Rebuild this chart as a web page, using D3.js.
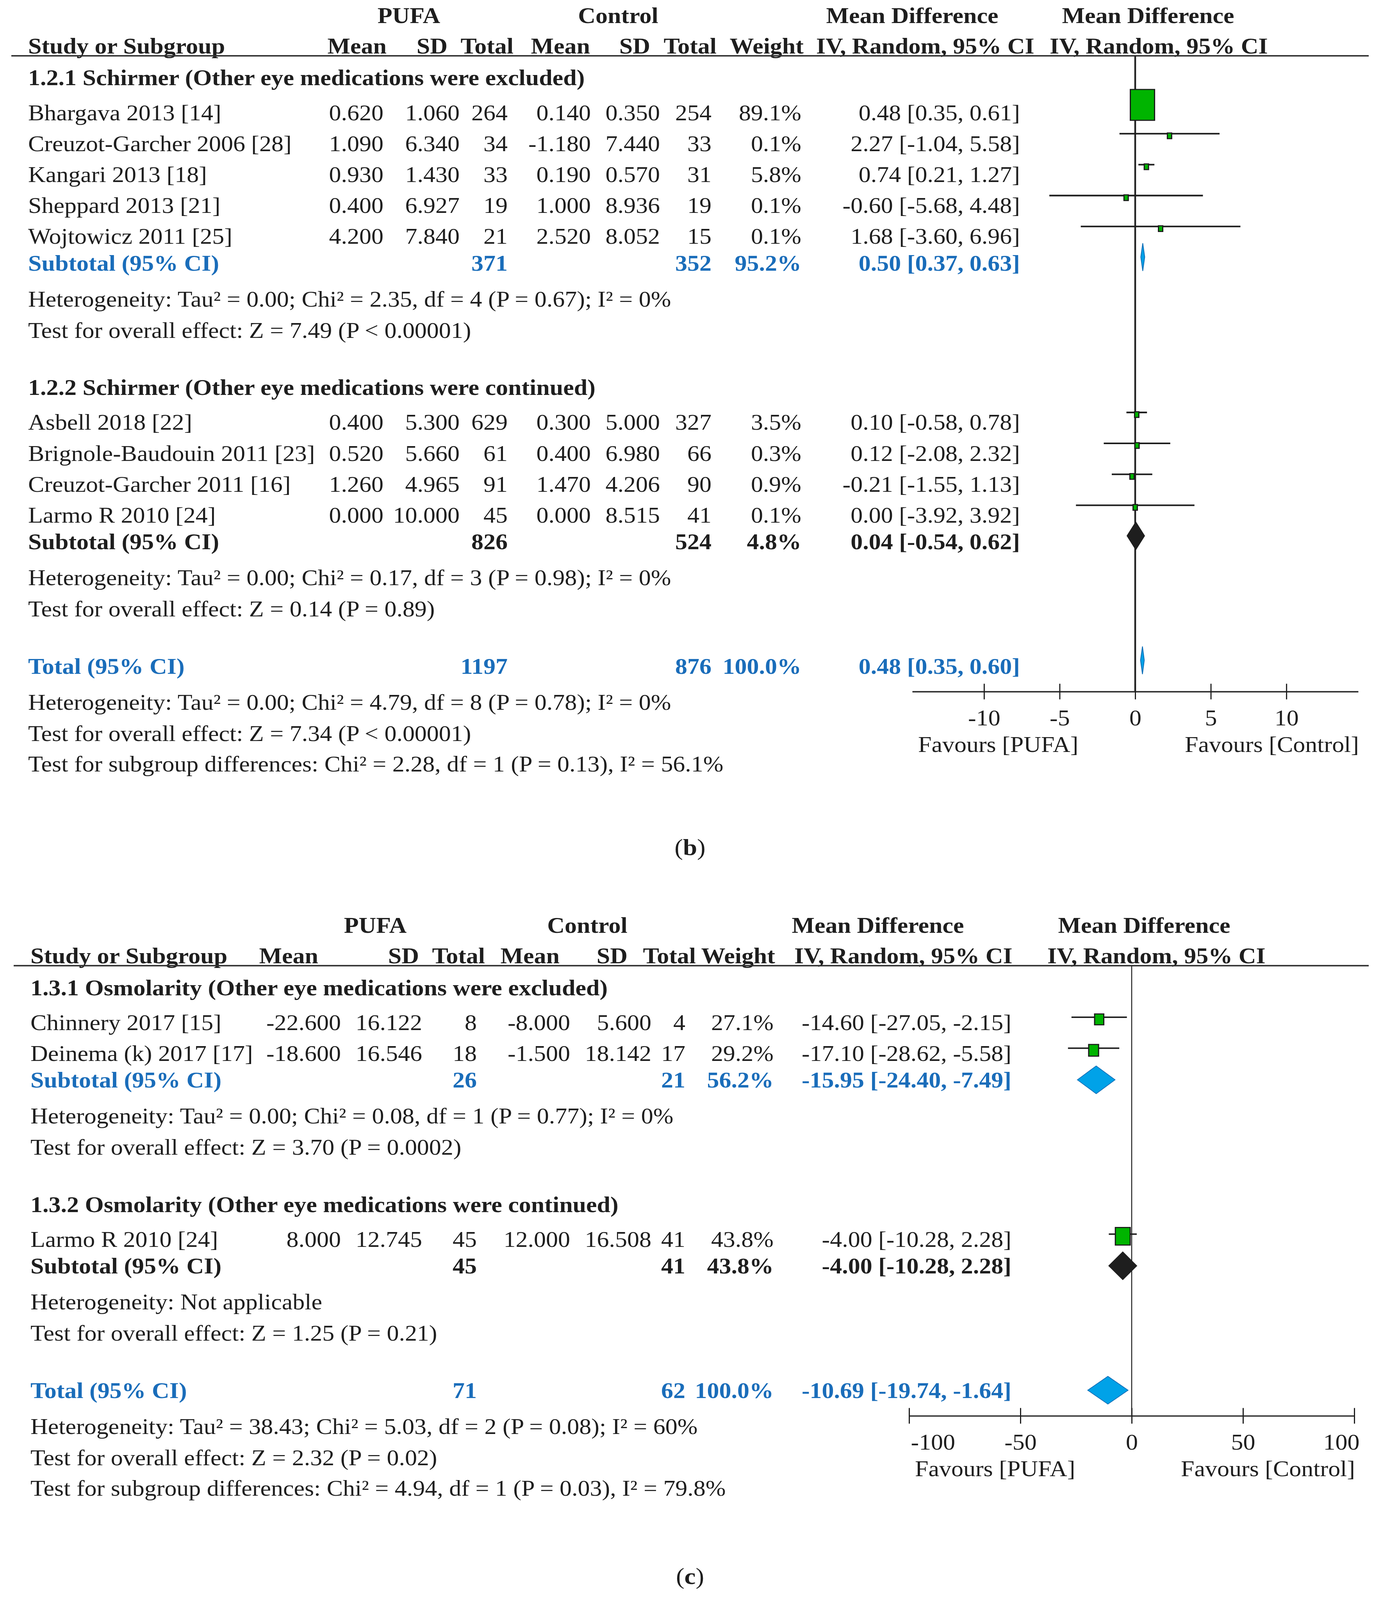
<!DOCTYPE html>
<html>
<head>
<meta charset="utf-8">
<script src="https://cdn.jsdelivr.net/npm/d3@7"></script>
<style>
  html, body { margin: 0; padding: 0; height: 100%; overflow: hidden; background: #fff; }
  svg { display: block; width: 100vw; height: 100vh; }
</style>
</head>
<body>
<svg id="chart"></svg>
<script>
const width = 3539, height = 4500;
const serif = '"Liberation Serif", "Times New Roman", serif';
const ink = "#1e1e1e";
const blue = "#1a6dba";
const fontSize = 62;

// ---------- panel (b): Schirmer ----------
const bHeadings = [
    "1.2.1 Schirmer (Other eye medications were excluded)",
    "1.2.2 Schirmer (Other eye medications were continued)"
];
const bStudies = ["Bhargava 2013 [14]", "Creuzot-Garcher 2006 [28]", "Kangari 2013 [18]", "Sheppard 2013 [21]",
    "Wojtowicz 2011 [25]", "Asbell 2018 [22]", "Brignole-Baudouin 2011 [23]", "Creuzot-Garcher 2011 [16]", "Larmo R 2010 [24]"];
const bGroup = [0, 0, 0, 0, 0, 1, 1, 1, 1];
const bPufaMean = [0.620, 1.090, 0.930, 0.400, 4.200, 0.400, 0.520, 1.260, 0.000];
const bPufaSD = [1.060, 6.340, 1.430, 6.927, 7.840, 5.300, 5.660, 4.965, 10.000];
const bPufaN = [264, 34, 33, 19, 21, 629, 61, 91, 45];
const bCtrlMean = [0.140, -1.180, 0.190, 1.000, 2.520, 0.300, 0.400, 1.470, 0.000];
const bCtrlSD = [0.350, 7.440, 0.570, 8.936, 8.052, 5.000, 6.980, 4.206, 8.515];
const bCtrlN = [254, 33, 31, 19, 15, 327, 66, 90, 41];
const bWeight = [89.1, 0.1, 5.8, 0.1, 0.1, 3.5, 0.3, 0.9, 0.1];
const bMD = [0.48, 2.27, 0.74, -0.60, 1.68, 0.10, 0.12, -0.21, 0.00];
const bLo = [0.35, -1.04, 0.21, -5.68, -3.60, -0.58, -2.08, -1.55, -3.92];
const bHi = [0.61, 5.58, 1.27, 4.48, 6.96, 0.78, 2.32, 1.13, 3.92];
// subtotals per subgroup, then overall total
const bSubN1 = [371, 826], bSubN2 = [352, 524], bSubW = [95.2, 4.8];
const bSubMD = [0.50, 0.04], bSubLo = [0.37, -0.54], bSubHi = [0.63, 0.62];
const bTotN1 = 1197, bTotN2 = 876, bTotW = 100.0, bTotMD = 0.48, bTotLo = 0.35, bTotHi = 0.60;
const bHet = [
    "Heterogeneity: Tau² = 0.00; Chi² = 2.35, df = 4 (P = 0.67); I² = 0%",
    "Heterogeneity: Tau² = 0.00; Chi² = 0.17, df = 3 (P = 0.98); I² = 0%",
    "Heterogeneity: Tau² = 0.00; Chi² = 4.79, df = 8 (P = 0.78); I² = 0%"
];
const bTest = [
    "Test for overall effect: Z = 7.49 (P < 0.00001)",
    "Test for overall effect: Z = 0.14 (P = 0.89)",
    "Test for overall effect: Z = 7.34 (P < 0.00001)"
];
const bSubgroupTest = "Test for subgroup differences: Chi² = 2.28, df = 1 (P = 0.13), I² = 56.1%";
const bTicks = [-10, -5, 0, 5, 10];
const bDomain = [-14.75, 14.75];

// ---------- panel (c): Osmolarity ----------
const cHeadings = [
    "1.3.1 Osmolarity (Other eye medications were excluded)",
    "1.3.2 Osmolarity (Other eye medications were continued)"
];
const cStudies = ["Chinnery 2017 [15]", "Deinema (k) 2017 [17]", "Larmo R 2010 [24]"];
const cGroup = [0, 0, 1];
const cPufaMean = [-22.600, -18.600, 8.000];
const cPufaSD = [16.122, 16.546, 12.745];
const cPufaN = [8, 18, 45];
const cCtrlMean = [-8.000, -1.500, 12.000];
const cCtrlSD = [5.600, 18.142, 16.508];
const cCtrlN = [4, 17, 41];
const cWeight = [27.1, 29.2, 43.8];
const cMD = [-14.60, -17.10, -4.00];
const cLo = [-27.05, -28.62, -10.28];
const cHi = [-2.15, -5.58, 2.28];
const cSubN1 = [26, 45], cSubN2 = [21, 41], cSubW = [56.2, 43.8];
const cSubMD = [-15.95, -4.00], cSubLo = [-24.40, -10.28], cSubHi = [-7.49, 2.28];
const cTotN1 = 71, cTotN2 = 62, cTotW = 100.0, cTotMD = -10.69, cTotLo = -19.74, cTotHi = -1.64;
const cHet = [
    "Heterogeneity: Tau² = 0.00; Chi² = 0.08, df = 1 (P = 0.77); I² = 0%",
    "Heterogeneity: Not applicable",
    "Heterogeneity: Tau² = 38.43; Chi² = 5.03, df = 2 (P = 0.08); I² = 60%"
];
const cTest = [
    "Test for overall effect: Z = 3.70 (P = 0.0002)",
    "Test for overall effect: Z = 1.25 (P = 0.21)",
    "Test for overall effect: Z = 2.32 (P = 0.02)"
];
const cSubgroupTest = "Test for subgroup differences: Chi² = 4.94, df = 1 (P = 0.03), I² = 79.8%";
const cTicks = [-100, -50, 0, 50, 100];
const cDomain = [-100, 100];

// drawing space is 3539 x 4500; stretch it onto whatever viewport we get
const svg = d3.select("#chart")
    .attr("viewBox", `0 0 ${width} ${height}`)
    .attr("preserveAspectRatio", "none")
    .attr("font-family", serif).attr("font-size", fontSize).attr("fill", ink);

function txt(g, x, y, s, anchor, bold, color) {
    return g.append("text")
        .attr("x", x).attr("y", y)
        .attr("text-anchor", anchor || "start")
        .attr("font-weight", bold ? "bold" : null)
        .attr("fill", color || ink)
        .text(s);
}

const ci = (md, lo, hi) => `${md.toFixed(2)} [${lo.toFixed(2)}, ${hi.toFixed(2)}]`;

function drawPanel(p) {
    const g = svg.append("g");
    const x = d3.scaleLinear().domain(p.domain).range(p.range);
    const boxW = d3.scaleLinear().domain([0, d3.max(p.weight)]).range([0, p.boxMax]);

    // headers
    const h1 = p.top - 85;
    ["PUFA", "Control", "Mean Difference", "Mean Difference"].forEach((s, i) => txt(g, p.h1[i], h1, s, "middle", true));
    txt(g, p.left, p.top, "Study or Subgroup", "start", true);
    const hc = p.hcols;
    [["Mean", hc.mean], ["SD", hc.sd], ["Total", hc.n], ["Mean", hc.cmean], ["SD", hc.csd], ["Total", hc.cn], ["Weight", hc.w]]
        .forEach(([s, cx]) => txt(g, cx, p.top, s, "end", true));
    p.iv.forEach(cx => txt(g, cx, p.top, "IV, Random, 95% CI", "start", true));
    const lineY = p.top + 7;
    g.append("line").attr("x1", p.lineX[0]).attr("x2", p.lineX[1]).attr("y1", lineY).attr("y2", lineY)
        .attr("stroke", "#333").attr("stroke-width", 4);

    // row layout
    const rows = [];
    let y = p.top;
    const push = (adv, r) => { y += adv; r.y = y; rows.push(r); };
    p.headings.forEach((h, gi) => {
        push(gi === 0 ? 90 : 161, { type: "heading", text: h });
        let first = true;
        p.studies.forEach((s, i) => {
            if (p.group[i] !== gi) return;
            push(first ? 98 : 87, { type: "study", i });
            first = false;
        });
        push(75, { type: "sum", label: "Subtotal (95% CI)", n1: p.subN1[gi], n2: p.subN2[gi], w: p.subW[gi],
            md: p.subMD[gi], lo: p.subLo[gi], hi: p.subHi[gi], color: gi === 0 ? blue : ink });
        push(101, { type: "note", text: p.het[gi] });
        push(88, { type: "note", text: p.test[gi] });
    });
    push(161, { type: "sum", label: "Total (95% CI)", n1: p.tot[0], n2: p.tot[1], w: p.tot[2],
        md: p.tot[3], lo: p.tot[4], hi: p.tot[5], color: blue, total: true });
    push(101, { type: "note", text: p.het[2] });
    push(88, { type: "note", text: p.test[2] });
    push(86, { type: "note", text: p.subgroupTest });

    const axisY = rows.find(r => r.total).y + 50;

    // zero line
    g.append("line").attr("x1", x(0)).attr("x2", x(0)).attr("y1", lineY).attr("y2", axisY)
        .attr("stroke", "#222").attr("stroke-width", p.zeroW);

    const c = p.cols;
    rows.forEach(r => {
        if (r.type === "heading") txt(g, p.left, r.y, r.text, "start", true);
        else if (r.type === "note") txt(g, p.left, r.y, r.text);
        else if (r.type === "study") {
            const i = r.i;
            txt(g, p.left, r.y, p.studies[i]);
            txt(g, c.mean, r.y, p.pufaMean[i].toFixed(3), "end");
            txt(g, c.sd, r.y, p.pufaSD[i].toFixed(3), "end");
            txt(g, c.n, r.y, p.pufaN[i], "end");
            txt(g, c.cmean, r.y, p.ctrlMean[i].toFixed(3), "end");
            txt(g, c.csd, r.y, p.ctrlSD[i].toFixed(3), "end");
            txt(g, c.cn, r.y, p.ctrlN[i], "end");
            txt(g, c.w, r.y, p.weight[i].toFixed(1) + "%", "end");
            txt(g, c.md, r.y, ci(p.md[i], p.lo[i], p.hi[i]), "end");
            const ly = r.y + p.lineOff;
            g.append("line").attr("x1", x(p.lo[i])).attr("x2", x(p.hi[i])).attr("y1", ly).attr("y2", ly)
                .attr("stroke", ink).attr("stroke-width", p.ciW);
            const w = Math.max(11, boxW(p.weight[i]));
            const h = Math.max(16, w * p.boxRatio);
            g.append("rect").attr("x", x(p.md[i]) - w / 2).attr("y", ly + 6 - h / 2)
                .attr("width", w).attr("height", h)
                .attr("fill", "#00b400").attr("stroke", "#1a1a1a").attr("stroke-width", 3);
        } else if (r.type === "sum") {
            txt(g, p.left, r.y, r.label, "start", true, r.color);
            txt(g, c.n, r.y, r.n1, "end", true, r.color);
            txt(g, c.cn, r.y, r.n2, "end", true, r.color);
            txt(g, c.w, r.y, r.w.toFixed(1) + "%", "end", true, r.color);
            txt(g, c.md, r.y, ci(r.md, r.lo, r.hi), "end", true, r.color);
            const cy = r.y + p.diaOff, dh = 78;
            const pts = [[x(r.lo), cy], [x(r.md), cy - dh / 2], [x(r.hi), cy], [x(r.md), cy + dh / 2]];
            g.append("polygon").attr("points", pts.map(d => d.join(",")).join(" "))
                .attr("fill", r.color === blue ? "#00a2e8" : ink)
                .attr("stroke", r.color === blue ? "#1170b8" : ink).attr("stroke-width", 2);
        }
    });

    // axis
    const axis = d3.axisBottom(x).tickValues(p.ticks).tickSize(22).tickSizeOuter(0).tickFormat(d => String(d));
    const ag = g.append("g").attr("transform", `translate(0,${axisY})`).call(axis)
        .attr("font-family", serif).attr("font-size", fontSize);
    ag.select(".domain").attr("stroke", "#333").attr("stroke-width", 4);
    ag.selectAll(".tick line").attr("y1", -22).attr("y2", 22).attr("stroke", ink).attr("stroke-width", 3);
    ag.selectAll(".tick text").attr("y", 95).attr("dy", 0).attr("fill", ink)
        .attr("text-anchor", d => d === p.domain[0] ? "start" : d === p.domain[1] ? "end" : "middle")
        .attr("x", d => d === p.domain[0] ? 4 : d === p.domain[1] ? 13 : 0);

    txt(g, p.range[0] + 15, axisY + 170, "Favours [PUFA]", "start");
    txt(g, p.range[1] + 2, axisY + 170, "Favours [Control]", "end");

    // panel letter
    const lt = g.append("text").attr("x", 1767).attr("y", p.labelY).attr("text-anchor", "middle")
        .attr("font-size", 65).attr("fill", ink);
    lt.append("tspan").text("(");
    lt.append("tspan").attr("font-weight", "bold").text(p.letter);
    lt.append("tspan").text(")");
}

drawPanel({
    headings: bHeadings, studies: bStudies, group: bGroup,
    pufaMean: bPufaMean, pufaSD: bPufaSD, pufaN: bPufaN,
    ctrlMean: bCtrlMean, ctrlSD: bCtrlSD, ctrlN: bCtrlN,
    weight: bWeight, md: bMD, lo: bLo, hi: bHi,
    subN1: bSubN1, subN2: bSubN2, subW: bSubW, subMD: bSubMD, subLo: bSubLo, subHi: bSubHi,
    tot: [bTotN1, bTotN2, bTotW, bTotMD, bTotLo, bTotHi],
    het: bHet, test: bTest, subgroupTest: bSubgroupTest,
    ticks: bTicks, domain: bDomain, range: [2336, 3478],
    top: 150, left: 72, lineX: [29, 3505],
    h1: [1047, 1583, 2336, 2940], iv: [2090, 2688],
    hcols: { mean: 990, sd: 1146, n: 1315, cmean: 1511, csd: 1665, cn: 1835, w: 2058 },
    cols: { mean: 982, sd: 1177, n: 1300, cmean: 1513, csd: 1690, cn: 1822, w: 2052, md: 2612 },
    boxMax: 62, boxRatio: 1.4, lineOff: -49, diaOff: -38, ciW: 4.5, zeroW: 4.5,
    letter: "b", labelY: 2405
});

drawPanel({
    headings: cHeadings, studies: cStudies, group: cGroup,
    pufaMean: cPufaMean, pufaSD: cPufaSD, pufaN: cPufaN,
    ctrlMean: cCtrlMean, ctrlSD: cCtrlSD, ctrlN: cCtrlN,
    weight: cWeight, md: cMD, lo: cLo, hi: cHi,
    subN1: cSubN1, subN2: cSubN2, subW: cSubW, subMD: cSubMD, subLo: cSubLo, subHi: cSubHi,
    tot: [cTotN1, cTotN2, cTotW, cTotMD, cTotLo, cTotHi],
    het: cHet, test: cTest, subgroupTest: cSubgroupTest,
    ticks: cTicks, domain: cDomain, range: [2328, 3468],
    top: 2709, left: 78, lineX: [35, 3505],
    h1: [961, 1504, 2248, 2930], iv: [2034, 2682],
    hcols: { mean: 815, sd: 1073, n: 1242, cmean: 1433, csd: 1607, cn: 1782, w: 1985 },
    cols: { mean: 873, sd: 1081, n: 1221, cmean: 1460, csd: 1668, cn: 1755, w: 1981, md: 2590 },
    boxMax: 38, boxRatio: 1.3, lineOff: -36, diaOff: -22, ciW: 4, zeroW: 2.5,
    letter: "c", labelY: 4455
});
</script>
</body>
</html>
